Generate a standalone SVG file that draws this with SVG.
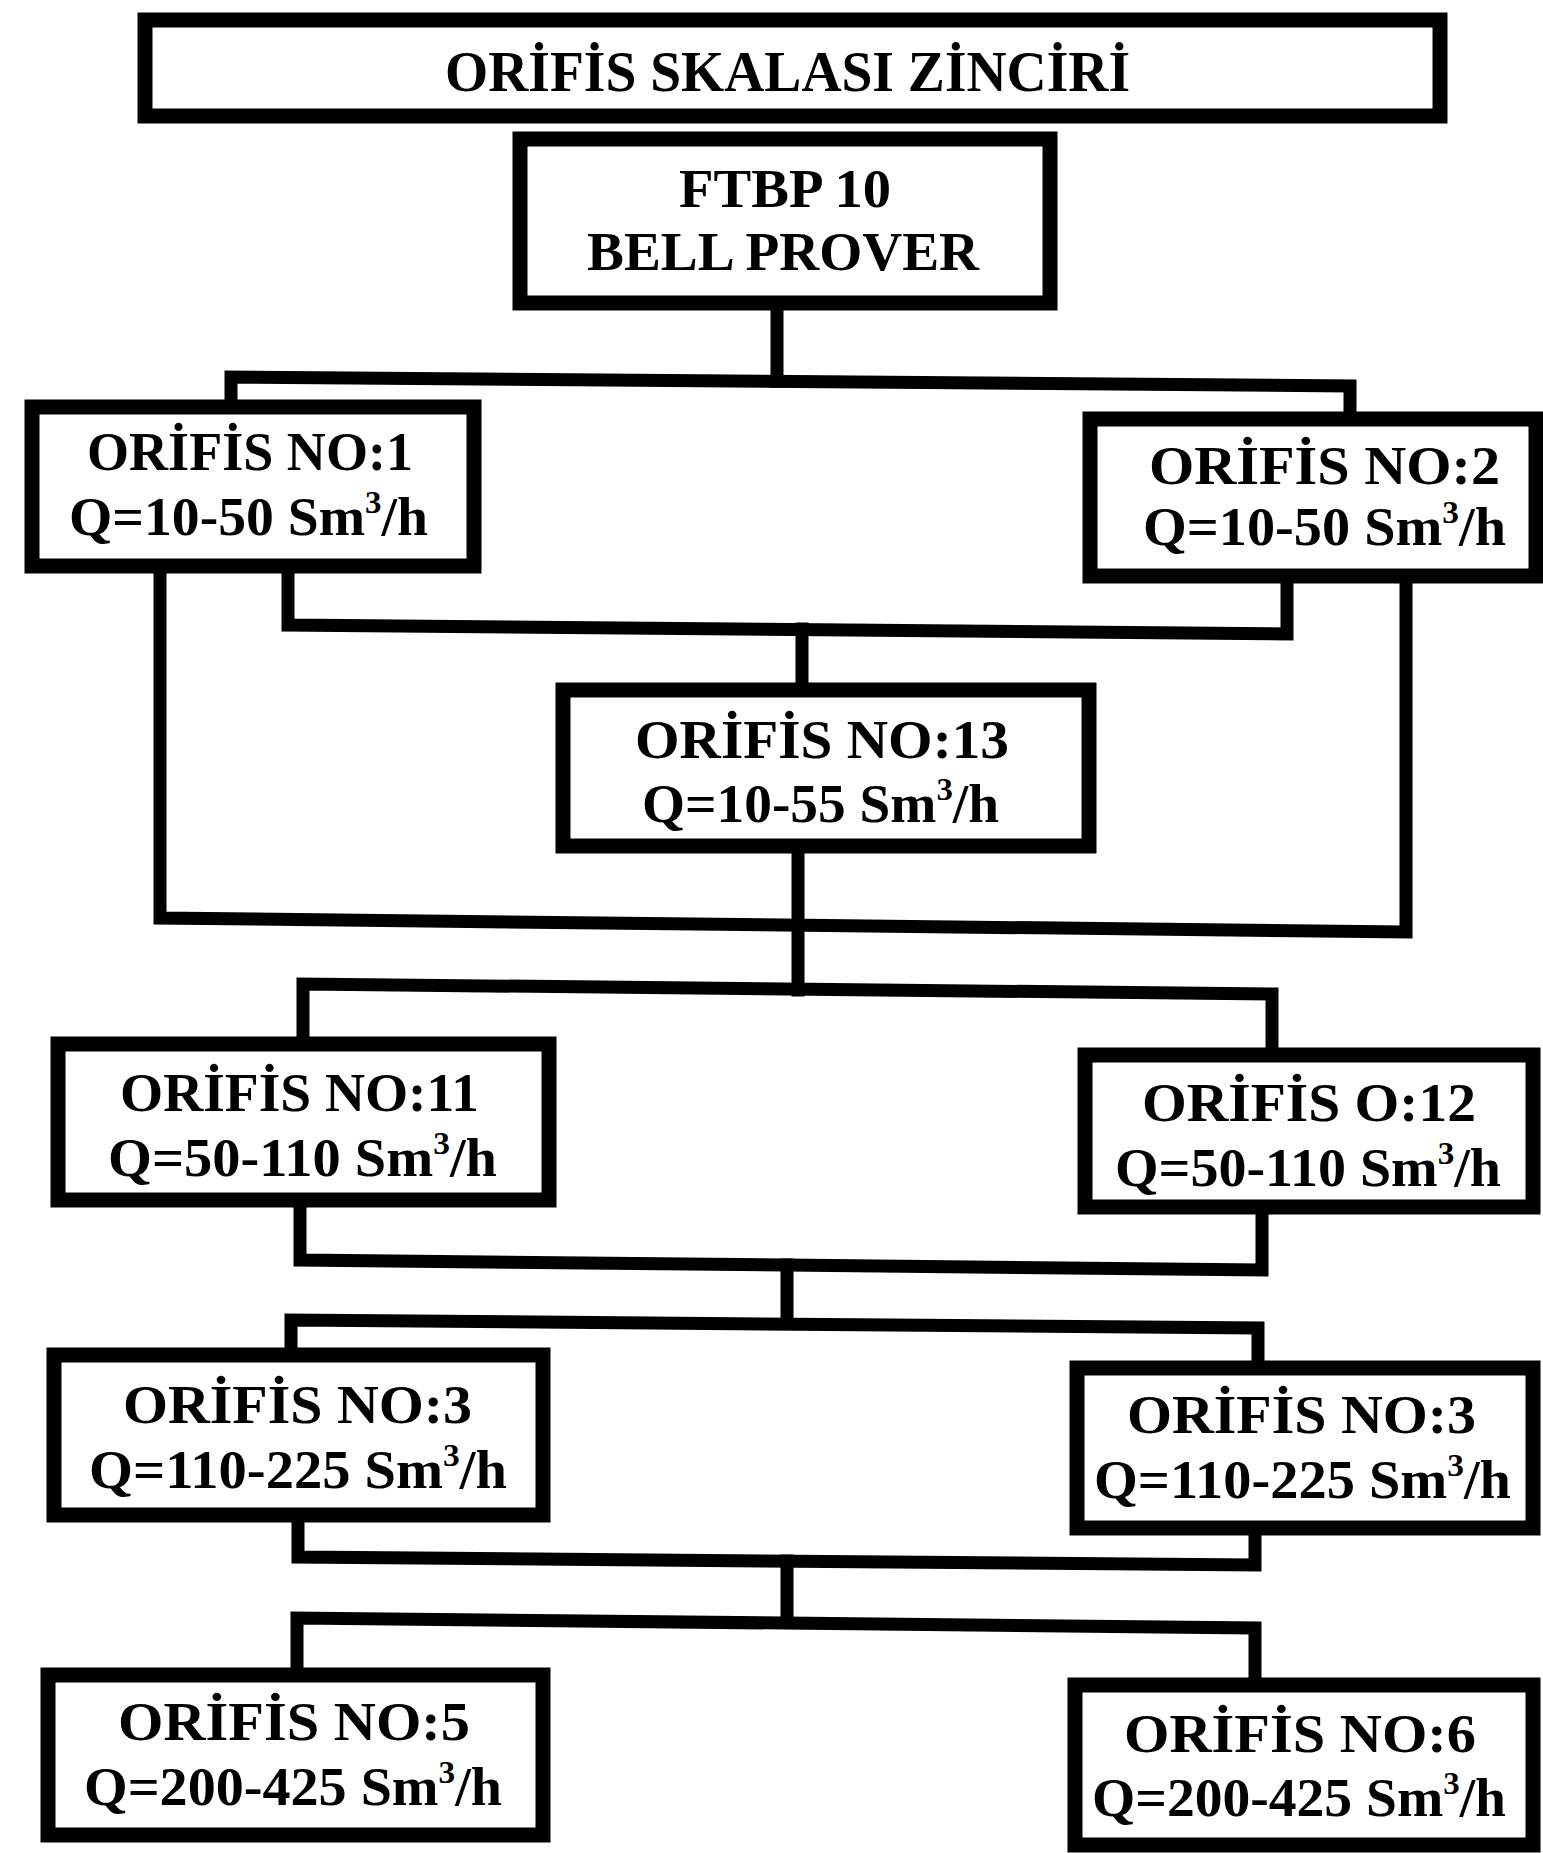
<svg xmlns="http://www.w3.org/2000/svg" width="1543" height="1853" viewBox="0 0 1543 1853">
<style>
.box{fill:#fff;stroke:#000;stroke-width:15}
.t{font-family:"Liberation Serif","Times New Roman",serif;font-weight:bold;font-size:54px;fill:#000}
.tt{font-size:58px}
.c{fill:none;stroke:#000;stroke-width:13;stroke-linejoin:miter;stroke-linecap:square}
.s{font-size:32px}
</style>
<rect width="1543" height="1853" fill="#fff"/>
<g id="connectors">
<polyline class="c" points="777,303 777,381"/>
<polyline class="c" points="231,405 231,377 1350,386 1350,415"/>
<polyline class="c" points="288,566 288,625 1287,634 1287,576"/>
<polyline class="c" points="802,629 802,690"/>
<polyline class="c" points="160,566 160,918 1406,932 1406,576"/>
<polyline class="c" points="798,846 798,990"/>
<polyline class="c" points="303,1040 303,984 1272,994 1272,1052"/>
<polyline class="c" points="300,1200 300,1260 1262,1270 1262,1207"/>
<polyline class="c" points="787,1265 787,1323"/>
<polyline class="c" points="291,1352 291,1320 1258,1328 1258,1364"/>
<polyline class="c" points="298,1515 298,1557 1255,1565 1255,1528"/>
<polyline class="c" points="787,1561 787,1622"/>
<polyline class="c" points="297,1672 297,1618 1255,1628 1255,1682"/>
</g>
<g id="title">
<rect class="box" x="145" y="20" width="1295" height="96"/>
<text class="t tt" x="445" y="91" textLength="685" lengthAdjust="spacingAndGlyphs">ORİFİS SKALASI ZİNCİRİ</text>
</g>
<g id="ftbp">
<rect class="box" x="520" y="139" width="530" height="164"/>
<text class="t" x="679" y="207" textLength="212" lengthAdjust="spacingAndGlyphs">FTBP 10</text>
<text class="t" x="587" y="270" textLength="392" lengthAdjust="spacingAndGlyphs">BELL PROVER</text>
</g>
<g id="orifis1">
<rect class="box" x="32" y="407" width="442" height="159"/>
<text class="t" x="87" y="470" textLength="326" lengthAdjust="spacingAndGlyphs">ORİFİS NO:1</text>
<text class="t" x="69" y="535" textLength="359" lengthAdjust="spacingAndGlyphs">Q=10-50 Sm<tspan class="s" dy="-22">3</tspan><tspan dy="22">/h</tspan></text>
</g>
<g id="orifis2">
<rect class="box" x="1090" y="419" width="446" height="157"/>
<text class="t" x="1149" y="484" textLength="351" lengthAdjust="spacingAndGlyphs">ORİFİS  NO:2</text>
<text class="t" x="1143" y="545" textLength="363" lengthAdjust="spacingAndGlyphs">Q=10-50 Sm<tspan class="s" dy="-22">3</tspan><tspan dy="22">/h</tspan></text>
</g>
<g id="orifis13">
<rect class="box" x="563" y="690" width="526" height="156"/>
<text class="t" x="635" y="758" textLength="374" lengthAdjust="spacingAndGlyphs">ORİFİS  NO:13</text>
<text class="t" x="642" y="822" textLength="357" lengthAdjust="spacingAndGlyphs">Q=10-55 Sm<tspan class="s" dy="-22">3</tspan><tspan dy="22">/h</tspan></text>
</g>
<g id="orifis11">
<rect class="box" x="58" y="1044" width="491" height="156"/>
<text class="t" x="120" y="1111" textLength="359" lengthAdjust="spacingAndGlyphs">ORİFİS NO:11</text>
<text class="t" x="108" y="1176" textLength="389" lengthAdjust="spacingAndGlyphs">Q=50-110 Sm<tspan class="s" dy="-22">3</tspan><tspan dy="22">/h</tspan></text>
</g>
<g id="orifis12">
<rect class="box" x="1085" y="1055" width="448" height="152"/>
<text class="t" x="1142" y="1121" textLength="334" lengthAdjust="spacingAndGlyphs">ORİFİS  O:12</text>
<text class="t" x="1115" y="1186" textLength="386" lengthAdjust="spacingAndGlyphs">Q=50-110 Sm<tspan class="s" dy="-22">3</tspan><tspan dy="22">/h</tspan></text>
</g>
<g id="orifis3a">
<rect class="box" x="54" y="1355" width="489" height="160"/>
<text class="t" x="123" y="1423" textLength="349" lengthAdjust="spacingAndGlyphs">ORİFİS  NO:3</text>
<text class="t" x="89" y="1488" textLength="418" lengthAdjust="spacingAndGlyphs">Q=110-225 Sm<tspan class="s" dy="-22">3</tspan><tspan dy="22">/h</tspan></text>
</g>
<g id="orifis3b">
<rect class="box" x="1077" y="1368" width="456" height="160"/>
<text class="t" x="1127" y="1433" textLength="349" lengthAdjust="spacingAndGlyphs">ORİFİS  NO:3</text>
<text class="t" x="1094" y="1498" textLength="417" lengthAdjust="spacingAndGlyphs">Q=110-225 Sm<tspan class="s" dy="-22">3</tspan><tspan dy="22">/h</tspan></text>
</g>
<g id="orifis5">
<rect class="box" x="48" y="1675" width="495" height="160"/>
<text class="t" x="118" y="1740" textLength="352" lengthAdjust="spacingAndGlyphs">ORİFİS  NO:5</text>
<text class="t" x="84" y="1805" textLength="418" lengthAdjust="spacingAndGlyphs">Q=200-425 Sm<tspan class="s" dy="-22">3</tspan><tspan dy="22">/h</tspan></text>
</g>
<g id="orifis6">
<rect class="box" x="1075" y="1685" width="458" height="160"/>
<text class="t" x="1124" y="1752" textLength="352" lengthAdjust="spacingAndGlyphs">ORİFİS  NO:6</text>
<text class="t" x="1092" y="1816" textLength="414" lengthAdjust="spacingAndGlyphs">Q=200-425 Sm<tspan class="s" dy="-22">3</tspan><tspan dy="22">/h</tspan></text>
</g>
</svg>
